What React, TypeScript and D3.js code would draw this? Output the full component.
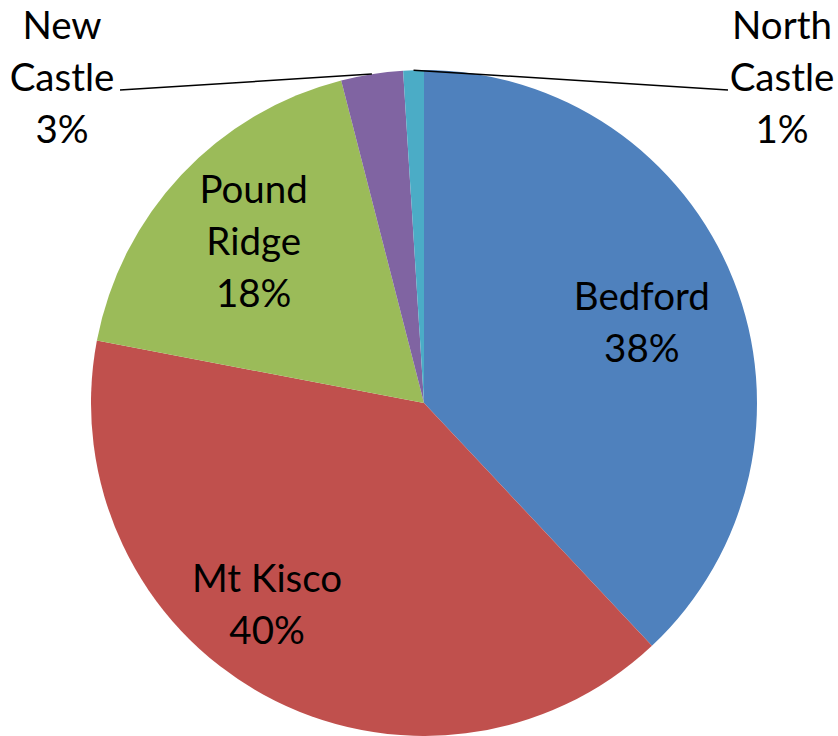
import React, { useEffect, useRef } from "react";
import * as d3 from "d3";

// towns and their share (percent)
const towns = ["Bedford", "Mt Kisco", "Pound Ridge", "New Castle", "North Castle"];
const shares = [38, 40, 18, 3, 1];
const colors = ["#4F81BD", "#C0504D", "#9BBB59", "#8064A2", "#4BACC6"];
// where each label goes: inside the slice, or outside left/right with a leader line
const labelSide = ["in", "in", "in", "left", "right"];

const App = () => {
  const ref = useRef<SVGSVGElement>(null);

  useEffect(() => {
    const width = 838;
    const height = 736;
    const cx = 424;
    const cy = 403;
    const r = 333;

    const svg = d3.select(ref.current);
    svg.selectAll("*").remove();

    const data = towns.map((name, i) => ({ name, value: shares[i], i }));

    const pie = d3
      .pie<any>()
      .sort(null)
      .value((d) => d.value);
    const arcs = pie(data);

    const arc = d3.arc<any>().innerRadius(0).outerRadius(r);
    const edgeArc = d3.arc<any>().innerRadius(r).outerRadius(r);
    const labelArc = d3.arc<any>().innerRadius(r * 0.71).outerRadius(r * 0.71);

    const g = svg.append("g").attr("transform", `translate(${cx},${cy})`);

    g.selectAll("path.slice")
      .data(arcs)
      .enter()
      .append("path")
      .attr("class", "slice")
      .attr("d", arc)
      .attr("fill", (d) => colors[d.data.i]);

    // small nudges so the inside labels land where Excel put them
    const nudge: Record<string, [number, number]> = {
      Bedford: [-2, 6],
      "Mt Kisco": [-43, -6],
      "Pound Ridge": [2, 0],
    };

    const fontSize = 38.5;
    const lineH = 52;

    arcs.forEach((d) => {
      const name = d.data.name;
      const lines = name.length > 8 ? name.split(" ") : [name];
      lines.push(`${d.data.value}%`);

      const side = labelSide[d.data.i];
      let x: number;
      let midY: number;
      if (side !== "in") {
        const [ex, ey] = edgeArc.centroid(d);
        const left = side === "left";
        x = left ? -362 : 358;
        // middle line baseline sits level with the leader end
        const lineEndX = left ? x + 58 : x - 54;
        const lineEndY = 90 - cy;
        g.append("path")
          .attr("d", `M${ex},${ey}L${lineEndX},${lineEndY}`)
          .attr("fill", "none")
          .attr("stroke", "#000")
          .attr("stroke-width", 1.5);
        midY = lineEndY - 13;
      } else {
        const [lx, ly] = labelArc.centroid(d);
        const n = nudge[name] || [0, 0];
        x = lx + n[0];
        midY = ly + n[1];
      }

      const text = g
        .append("text")
        .attr("text-anchor", "middle")
        .attr("font-family", "Lato, 'Open Sans', sans-serif")
        .attr("font-size", fontSize)
        .attr("fill", "#000");
      const startY = midY - ((lines.length - 1) * lineH) / 2 + fontSize * 0.36;
      lines.forEach((t, k) => {
        text
          .append("tspan")
          .attr("x", x)
          .attr("y", startY + k * lineH)
          .text(t);
      });
    });

    svg.attr("width", width).attr("height", height);
  }, []);

  return (
    <div style={{ position: "absolute", left: 0, top: 0, background: "#fff" }}>
      <svg ref={ref} width={838} height={736} />
    </div>
  );
};

export default App;
